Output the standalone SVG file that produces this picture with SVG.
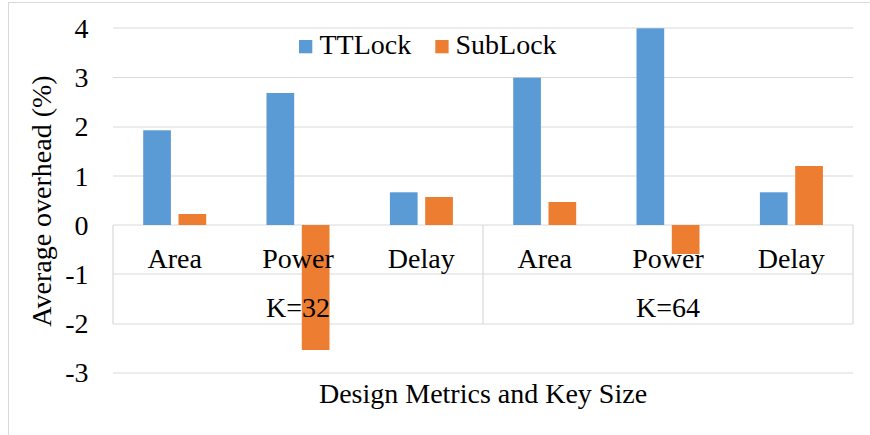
<svg xmlns="http://www.w3.org/2000/svg" width="870" height="435" viewBox="0 0 870 435">
  <style>
    .frame { fill: #ffffff; stroke: #d9d9d9; stroke-width: 1; }
    .grid { stroke: #d9d9d9; stroke-width: 1.2; fill: none; }
    .tt { fill: #5b9bd5; }
    .sub { fill: #ed7d31; }
    text { font-family: "Liberation Serif", "Times New Roman", serif; font-size: 28px; fill: #000000; }
    .tick { text-anchor: end; }
    .mid { text-anchor: middle; }
  </style>

  <!-- chart frame -->
  <rect class="frame" x="8.5" y="2.5" width="880" height="450"/>

  <!-- value gridlines: 4 .. -3 -->
  <g id="gridlines">
    <line class="grid" x1="113" y1="28" x2="853" y2="28"/>
    <line class="grid" x1="113" y1="77.5" x2="853" y2="77.5"/>
    <line class="grid" x1="113" y1="127" x2="853" y2="127"/>
    <line class="grid" x1="113" y1="176" x2="853" y2="176"/>
    <line class="grid" x1="113" y1="373" x2="853" y2="373"/>
  </g>

  <!-- category axis table -->
  <g id="category-axis">
    <line class="grid" x1="113" y1="225" x2="853" y2="225"/>
    <line class="grid" x1="113" y1="274" x2="853" y2="274"/>
    <line class="grid" x1="113" y1="324" x2="853" y2="324"/>
    <line class="grid" x1="113" y1="225" x2="113" y2="324"/>
    <line class="grid" x1="483" y1="225" x2="483" y2="324"/>
    <line class="grid" x1="853" y1="225" x2="853" y2="324"/>
  </g>

  <!-- series: TTLock -->
  <g id="series-ttlock">
    <rect class="tt" x="143.2" y="130.3" width="27.7" height="94.7"/>
    <rect class="tt" x="266.5" y="93" width="27.7" height="132"/>
    <rect class="tt" x="389.9" y="192.3" width="27.7" height="32.7"/>
    <rect class="tt" x="513.2" y="77.7" width="27.7" height="147.3"/>
    <rect class="tt" x="636.5" y="28.3" width="27.7" height="196.7"/>
    <rect class="tt" x="759.9" y="192.3" width="27.7" height="32.7"/>
  </g>

  <!-- series: SubLock -->
  <g id="series-sublock">
    <rect class="sub" x="178.5" y="214" width="27.7" height="11"/>
    <rect class="sub" x="301.8" y="225" width="27.7" height="125"/>
    <rect class="sub" x="425.2" y="197" width="27.7" height="28"/>
    <rect class="sub" x="548.5" y="202" width="27.7" height="23"/>
    <rect class="sub" x="671.8" y="225" width="27.7" height="29"/>
    <rect class="sub" x="795.2" y="166" width="27.7" height="59"/>
  </g>

  <!-- value axis labels -->
  <g id="value-axis">
    <text class="tick" x="88.5" y="37.5">4</text>
    <text class="tick" x="88.5" y="87">3</text>
    <text class="tick" x="88.5" y="136.3">2</text>
    <text class="tick" x="88.5" y="185.5">1</text>
    <text class="tick" x="88.5" y="234.5">0</text>
    <text class="tick" x="88.5" y="283.8">-1</text>
    <text class="tick" x="88.5" y="333">-2</text>
    <text class="tick" x="88.5" y="382.3">-3</text>
  </g>

  <!-- category labels -->
  <g id="category-labels">
    <text class="mid" x="174.7" y="267.7">Area</text>
    <text class="mid" x="298" y="267.7">Power</text>
    <text class="mid" x="421.3" y="267.7">Delay</text>
    <text class="mid" x="544.7" y="267.7">Area</text>
    <text class="mid" x="668" y="267.7">Power</text>
    <text class="mid" x="791.3" y="267.7">Delay</text>
    <text class="mid" x="298" y="316.7">K=32</text>
    <text class="mid" x="668" y="316.7">K=64</text>
  </g>

  <!-- axis titles -->
  <g id="axis-titles">
    <text class="mid" x="483" y="403">Design Metrics and Key Size</text>
    <text class="mid" transform="translate(50.5,201) rotate(-90)">Average overhead (%)</text>
  </g>

  <!-- legend -->
  <g id="legend">
    <rect class="tt" x="299" y="40" width="13.3" height="13.3"/>
    <text x="319.5" y="54.3">TTLock</text>
    <rect class="sub" x="435.3" y="40" width="13.3" height="13.3"/>
    <text x="455.5" y="54.3">SubLock</text>
  </g>
</svg>
